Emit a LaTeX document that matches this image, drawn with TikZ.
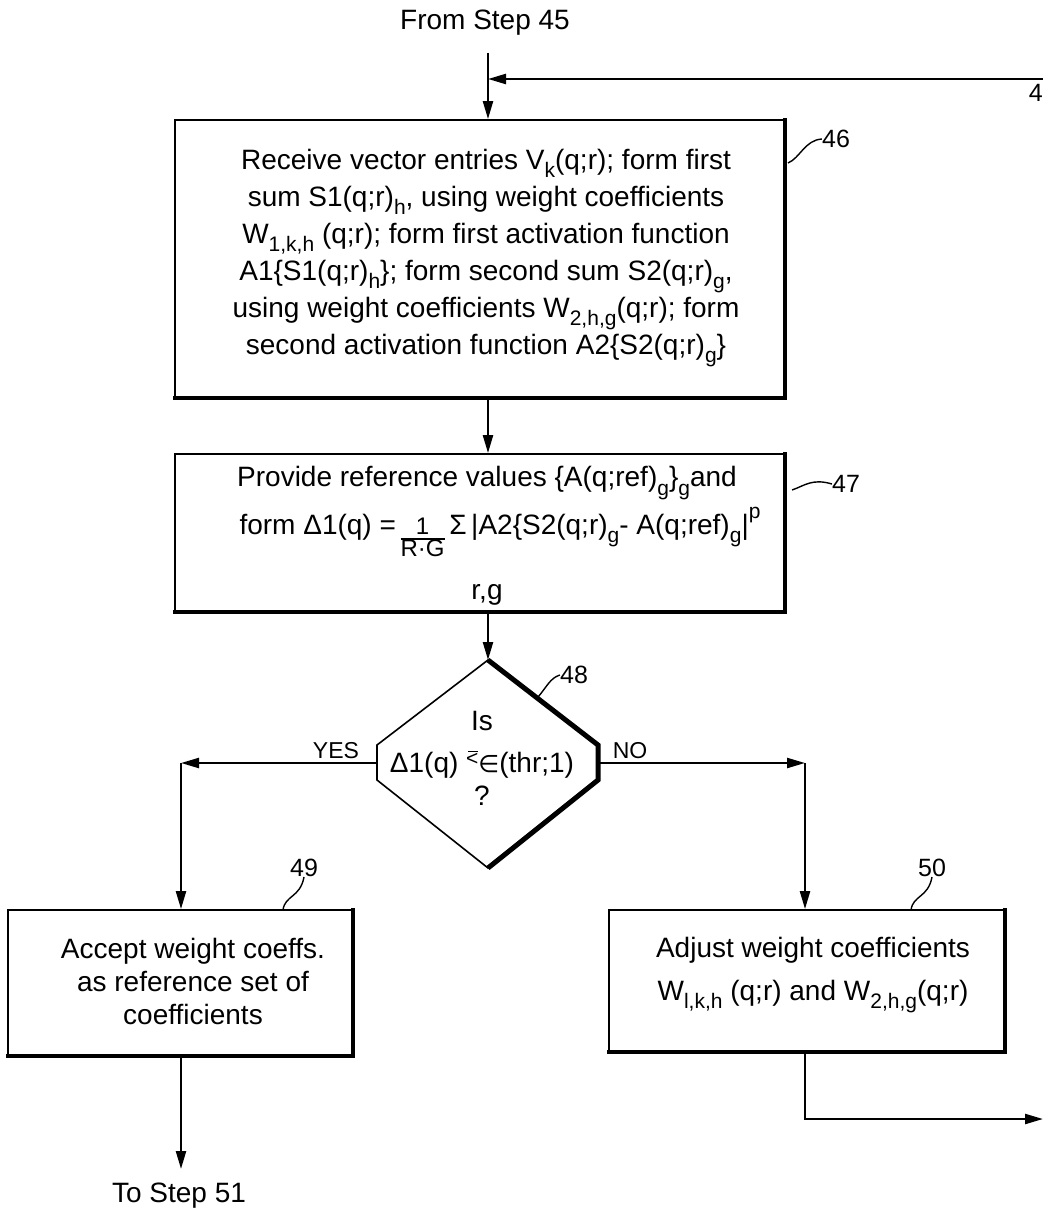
\documentclass[tikz,border=0pt]{standalone}
\usepackage{fontspec}
\setmainfont{Liberation Sans}
\newfontfamily\dvs{DejaVu Sans}
\usetikzlibrary{arrows.meta}
\newcommand\fs{\fontsize{28}{37}\selectfont}
\newcommand\lo[1]{\raisebox{-0.3em}{\fontsize{21}{21}\selectfont #1}}
\newcommand\hi[1]{\raisebox{0.55em}{\fontsize{21}{21}\selectfont #1}}
\newcommand\rgfrac{{\fontsize{24}{24}\selectfont\setlength\arrayrulewidth{1.4pt}\setlength\tabcolsep{0pt}\begin{tabular}[t]{c}1\\[-3pt]\hline R·G\end{tabular}}}
\newcommand\lessbar{\raisebox{0.22em}{\fontsize{21}{21}\selectfont\rlap{\raisebox{0.66em}{\kern0.1em\rule{0.45em}{1.3pt}}}<}}
\tikzset{
  box/.style={draw, line width=1.8pt, inner sep=0pt, align=center, font=\fs},
  heavy/.style={line width=4pt, line cap=rect},
  arr/.style={line width=2.3pt, -{Triangle[length=18pt,width=10pt]}},
  lead/.style={line width=1.4pt},
  lbl/.style={font=\fontsize{25}{25}\selectfont, inner sep=0pt},
  yn/.style={font=\fontsize{23}{23}\selectfont, inner sep=0pt},
  term/.style={font=\fs, inner sep=0pt},
  txt/.style={font=\fs, align=center, inner sep=0pt}
}
\begin{document}
\begin{tikzpicture}[x=1pt,y=-1pt]
\useasboundingbox (0,0) rectangle (1043,1217);
% terminals
\node[term] (from) at (485,23) {From Step 45};
\node[term] (to51) at (179,1196) {To Step 51};
% boxes
\node[box, minimum width=610, minimum height=278] (b46) at (480,259) {};
\node[txt] (t46) at (486,258) {%
Receive vector entries V\lo{k}(q;r); form first\\
sum S1(q;r)\lo{h}, using weight coefficients\\
W\lo{1,k,h} (q;r); form first activation function\\
A1\{S1(q;r)\lo{h}\}; form second sum S2(q;r)\lo{g},\\
using weight coefficients W\lo{2,h,g}(q;r); form\\
second activation function A2\{S2(q;r)\lo{g}\}};
\draw[heavy] ([shift={(-1,1)}]b46.north east) -- ([shift={(-1,-1)}]b46.south east) -- ([shift={(1,-1)}]b46.south west);

\node[box, minimum width=610, minimum height=158] (b47) at (480,533) {};
\node[txt] (t47) at (487,536) {%
Provide reference values \{A(q;ref)\lo{g}\}\lo{g}and\\[7pt]
\hspace*{26pt}form Δ1(q) =\,\rgfrac\,Σ\,|A2\{S2(q;r)\lo{g}- A(q;ref)\lo{g}|\hi{p}\\[20pt]
r,g};
\draw[heavy] ([shift={(-1,1)}]b47.north east) -- ([shift={(-1,-1)}]b47.south east) -- ([shift={(1,-1)}]b47.south west);

\node[box, minimum width=345, minimum height=146] (b49) at (180.5,983) {};
\node[txt] (t49) at (193,981) {Accept weight coeffs.\\[-4pt] as reference set of\\[-4pt] coefficients};
\draw[heavy] ([shift={(-1,1)}]b49.north east) -- ([shift={(-1,-1)}]b49.south east) -- ([shift={(1,-1)}]b49.south west);

\node[box, minimum width=396, minimum height=142] (b50) at (807,981) {};
\node[txt] (t50) at (813,975) {Adjust weight coefficients\\[6pt]
W\lo{l,k,h} (q;r) and W\lo{2,h,g}(q;r)};
\draw[heavy] ([shift={(-1,1)}]b50.north east) -- ([shift={(-1,-1)}]b50.south east) -- ([shift={(1,-1)}]b50.south west);

% decision
\coordinate (dT) at (488,660);
\coordinate (dR) at (598,763);
\coordinate (dL) at (377,763);
\coordinate (dB) at (488,868);
\draw[line width=1.6pt, line join=miter] (dT) -- (598,745) -- (598,780) -- (dB) -- (377,780) -- (377,745) -- cycle;
\draw[line width=5pt, line join=miter] (dT) -- (598,745) -- (598,780) -- (dB);
\node[txt] (d48) at (482,758) {Is\\[5pt]
Δ1(q) \lessbar{\dvs\fontsize{24}{24}\selectfont ∈}(thr;1)\\[-4pt]
?};
\node[yn] (yes) at (336,751) {YES};
\node[yn] (no) at (630,751) {NO};

% connectors
\coordinate (ax) at (488,0);
\coordinate (s0) at (488,53);
\coordinate (fbR) at (1045,79);
\coordinate (fbL) at (488,79);
\coordinate (yesC) at (181,763);
\coordinate (noC) at (805,763);
\coordinate (end51) at (181,1169);
\coordinate (fbOut) at (1043,1119);
\draw[arr] (s0) -- (s0 |- b46.north);
\draw[arr] (fbR) -- (fbL);
\draw[arr] (b46.south -| ax) -- (b47.north -| ax);
\draw[arr] (b47.south -| ax) -- (dT);
\draw[arr] (dL) -- (yesC);
\draw[arr] (yesC) -- (b49.north -| yesC);
\draw[arr] (dR) -- (noC);
\draw[arr] (noC) -- (b50.north -| noC);
\draw[arr] (b49.south -| yesC) -- (end51);
\draw[arr] (b50.south -| noC) |- (fbOut);

% reference labels
\node[lbl] (l46) at (836,139) {46};
\node[lbl] (l47) at (846,484) {47};
\node[lbl] (l48) at (574,675) {48};
\node[lbl] (l49) at (304,868) {49};
\node[lbl] (l50) at (932,868) {50};
\node[lbl, anchor=east] (l4x) at (1043,93) {4};
\coordinate (c46) at (788,163);
\coordinate (c47) at (792,490);
\coordinate (c48) at (538,697);
\coordinate (c49) at (283,910);
\coordinate (c50) at (911,910);
\draw[lead] (c46) .. controls (800,158) and (805,140) .. (l46.west);
\draw[lead] (c47) .. controls (804,486) and (812,478) .. (l47.west);
\draw[lead] (c48) .. controls (546,688) and (550,678) .. (l48.west);
\draw[lead] (c49) .. controls (285,895) and (300,898) .. (l49.south);
\draw[lead] (c50) .. controls (913,895) and (928,898) .. (l50.south);
\end{tikzpicture}
\end{document}
